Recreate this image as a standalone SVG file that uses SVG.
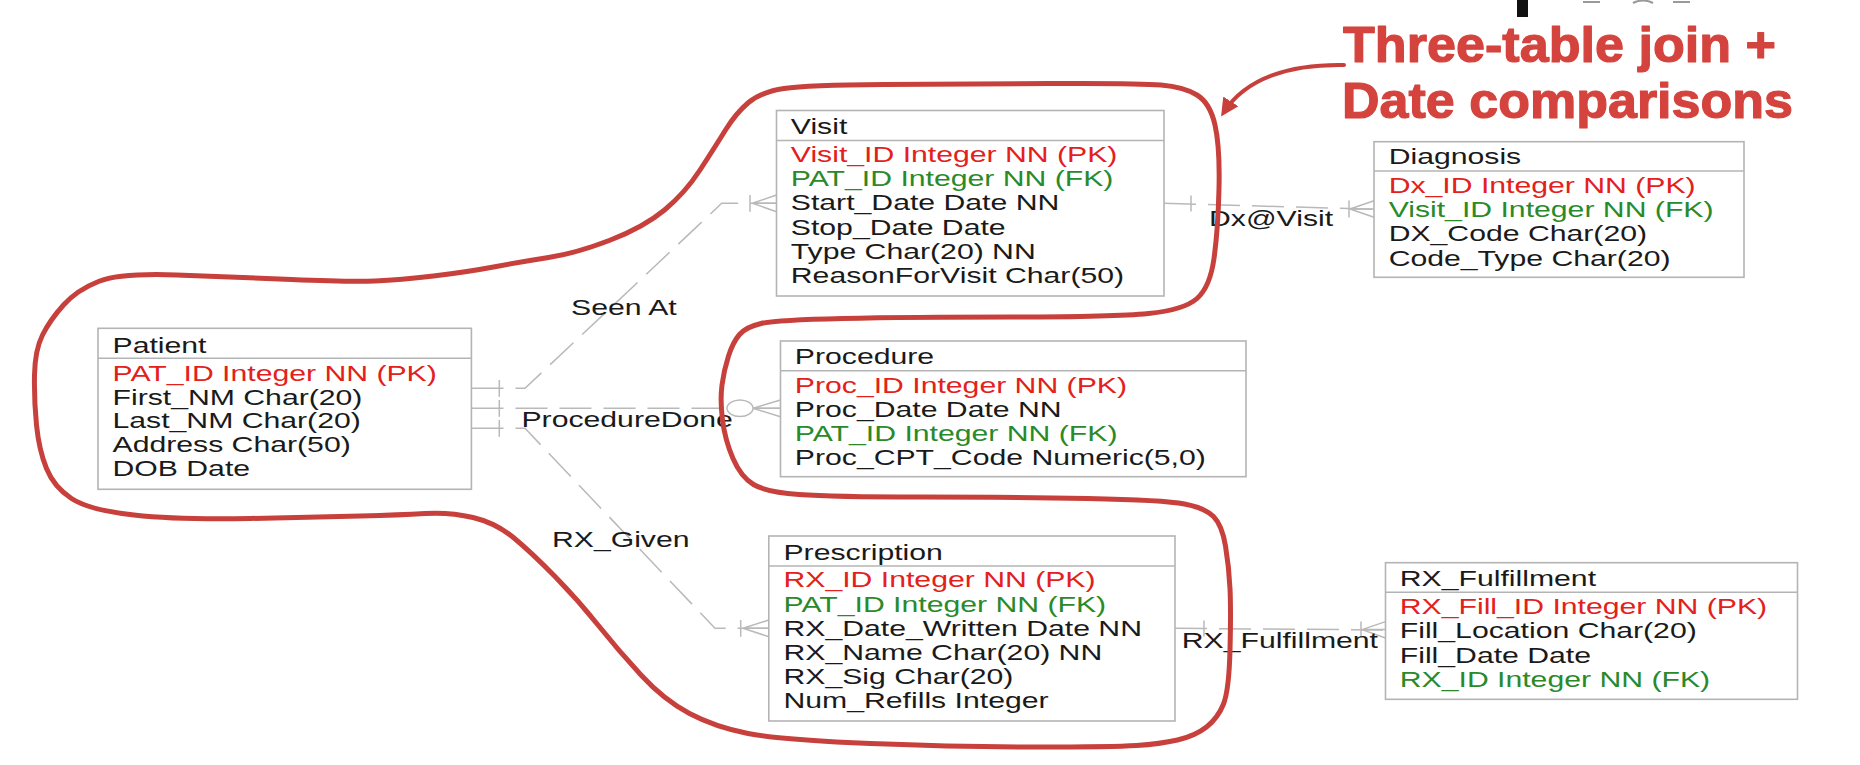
<svg xmlns="http://www.w3.org/2000/svg" width="1860" height="765" viewBox="0 0 1860 765">
<style>
  .box{fill:#ffffff;stroke:#b4b4b4;stroke-width:1.6}
  .div{stroke:#b4b4b4;stroke-width:1.6}
  text{font-family:"Liberation Sans",Arial,sans-serif;font-size:22px;fill:#1a1a1a}
  .pk{fill:#e3211c}
  .fk{fill:#2a8a2a}
  .conn{fill:none;stroke:#b9b9b9;stroke-width:1.5;stroke-dasharray:32 12}
  .sym{fill:none;stroke:#b9b9b9;stroke-width:1.5}
  .loop{fill:none;stroke:#c8403b;stroke-width:5;stroke-linejoin:round;stroke-linecap:round}
  .arrow{fill:none;stroke:#c8403b;stroke-width:4;stroke-linecap:round}
  .title{font-family:"Liberation Sans",Arial,sans-serif;font-weight:700;font-size:50px;fill:#d4433d;stroke:#d4433d;stroke-width:1.2;stroke-linejoin:round}
</style>
<defs>
  <marker id="ah" viewBox="0 0 10 10" refX="7" refY="5" markerUnits="userSpaceOnUse" markerWidth="18" markerHeight="18" orient="auto">
    <path d="M0,0 L10,5 L0,10 z" fill="#c8403b"/>
  </marker>
</defs>
<rect x="0" y="0" width="1860" height="765" fill="#ffffff"/>

<g id="connectors">
  <path class="conn" d="M471.5,388.3 H525 L721.7,203.3 H776.5"/>
  <path class="conn" d="M471.5,408.3 H727"/>
  <path class="conn" d="M753,408.3 H780.5"/>
  <path class="conn" d="M471.5,428.3 H525 L715,628.3 H768.8"/>
  <path class="conn" d="M1164,203.3 L1374,209.3"/>
  <path class="conn" d="M1175,628.3 L1385.5,630"/>
  <path class="sym" d="M499.3,380 V396.7 M499.3,400 V416.7 M499.3,420 V436.7"/>
  <path class="sym" d="M750,195 V211.7 M752.5,203.3 L776.5,195 M752.5,203.3 H776.5 M752.5,203.3 L776.5,211.7"/>
  <ellipse class="sym" cx="740" cy="408.3" rx="13" ry="8.3"/>
  <path class="sym" d="M753,408.3 L780.5,400 M753,408.3 H780.5 M753,408.3 L780.5,416.7"/>
  <path class="sym" d="M740.7,620 V636.7 M743,628.3 L768.8,620 M743,628.3 H768.8 M743,628.3 L768.8,636.7"/>
  <path class="sym" d="M1191,195.5 V211.5 M1349,200.5 V217.5 M1350,209 L1374,200.8 M1350,209 H1374 M1350,209 L1374,217.3"/>
  <path class="sym" d="M1204,620.5 V636.5 M1361,621.5 V638 M1362,629.6 L1385.5,621.6 M1362,629.6 H1385.5 M1362,629.6 L1385.5,638"/>
  <g transform="scale(1.373 1)">
    <text x="415.9" y="315">Seen At</text>
    <text x="379.8" y="426.7">ProcedureDone</text>
    <text x="402" y="546.7">RX_Given</text>
    <text x="880.6" y="226">Dx@Visit</text>
    <text x="860.7" y="648.3">RX_Fulfillment</text>
  </g>
</g>

<g id="patient">
  <rect class="box" x="98" y="328.3" width="373.4" height="161"/>
  <line class="div" x1="98" y1="358.3" x2="471.4" y2="358.3"/>
  <g transform="scale(1.373 1)">
    <text x="81.94" y="352.7">Patient</text>
    <text class="pk" x="81.94" y="381">PAT_ID Integer NN (PK)</text>
    <text x="81.94" y="404.8">First_NM Char(20)</text>
    <text x="81.94" y="428.5">Last_NM Char(20)</text>
    <text x="81.94" y="452.3">Address Char(50)</text>
    <text x="81.94" y="476">DOB Date</text>
  </g>
</g>

<g id="visit">
  <rect class="box" x="776.5" y="110.5" width="387.5" height="185.5"/>
  <line class="div" x1="776.5" y1="140.5" x2="1164" y2="140.5"/>
  <g transform="scale(1.373 1)">
    <text x="575.96" y="134">Visit</text>
    <text class="pk" x="575.96" y="162.5">Visit_ID Integer NN (PK)</text>
    <text class="fk" x="575.96" y="186.5">PAT_ID Integer NN (FK)</text>
    <text x="575.96" y="210.5">Start_Date Date NN</text>
    <text x="575.96" y="234.7">Stop_Date Date</text>
    <text x="575.96" y="258.9">Type Char(20) NN</text>
    <text x="575.96" y="283">ReasonForVisit Char(50)</text>
  </g>
</g>

<g id="diagnosis">
  <rect class="box" x="1374" y="141.7" width="370" height="135.6"/>
  <line class="div" x1="1374" y1="171" x2="1744" y2="171"/>
  <g transform="scale(1.373 1)">
    <text x="1011.4" y="164">Diagnosis</text>
    <text class="pk" x="1011.4" y="193.3">Dx_ID Integer NN (PK)</text>
    <text class="fk" x="1011.4" y="217.3">Visit_ID Integer NN (FK)</text>
    <text x="1011.4" y="241.5">DX_Code Char(20)</text>
    <text x="1011.4" y="265.7">Code_Type Char(20)</text>
  </g>
</g>

<g id="procedure">
  <rect class="box" x="780.5" y="341" width="465.5" height="135.7"/>
  <line class="div" x1="780.5" y1="370.7" x2="1246" y2="370.7"/>
  <g transform="scale(1.373 1)">
    <text x="578.9" y="364">Procedure</text>
    <text class="pk" x="578.9" y="393.3">Proc_ID Integer NN (PK)</text>
    <text x="578.9" y="417.3">Proc_Date Date NN</text>
    <text class="fk" x="578.9" y="441">PAT_ID Integer NN (FK)</text>
    <text x="578.9" y="465">Proc_CPT_Code Numeric(5,0)</text>
  </g>
</g>

<g id="prescription">
  <rect class="box" x="768.8" y="536" width="406.2" height="185"/>
  <line class="div" x1="768.8" y1="566" x2="1175" y2="566"/>
  <g transform="scale(1.373 1)">
    <text x="570.65" y="560">Prescription</text>
    <text class="pk" x="570.65" y="587.3">RX_ID Integer NN (PK)</text>
    <text class="fk" x="570.65" y="611.7">PAT_ID Integer NN (FK)</text>
    <text x="570.65" y="636">RX_Date_Written Date NN</text>
    <text x="570.65" y="660">RX_Name Char(20) NN</text>
    <text x="570.65" y="684.3">RX_Sig Char(20)</text>
    <text x="570.65" y="708.3">Num_Refills Integer</text>
  </g>
</g>

<g id="rx_fulfillment">
  <rect class="box" x="1385.5" y="562.7" width="412" height="136.6"/>
  <line class="div" x1="1385.5" y1="592.3" x2="1797.5" y2="592.3"/>
  <g transform="scale(1.373 1)">
    <text x="1019.5" y="586">RX_Fulfillment</text>
    <text class="pk" x="1019.5" y="614">RX_Fill_ID Integer NN (PK)</text>
    <text x="1019.5" y="638.3">Fill_Location Char(20)</text>
    <text x="1019.5" y="662.6">Fill_Date Date</text>
    <text class="fk" x="1019.5" y="686.7">RX_ID Integer NN (FK)</text>
  </g>
</g>

<g id="annotation">
  <path class="loop" d="M784,88.5 Q807,85 883.5,84.5 Q960,84 1049,83.5 Q1138,83 1161,85 Q1184,87 1197,95 Q1210,103 1215,125 Q1220,147 1219,188.5 Q1218,230 1214,258.5 Q1210,287 1197,298.5 Q1184,310 1148.5,313.5 Q1113,317 1011,317 Q909,317 842.5,318.5 Q776,320 761,323.5 Q746,327 739.5,334.5 Q733,342 728.5,356 Q724,370 722,385 Q720,400 722.5,420 Q725,440 733,458.5 Q741,477 753.5,484.5 Q766,492 799,494.5 Q832,497 921.5,497 Q1011,497 1087.5,498.5 Q1164,500 1184.5,504 Q1205,508 1213.5,516.5 Q1222,525 1225.5,546 Q1229,567 1230,588.5 Q1231,610 1230,650 Q1229,690 1223.5,704 Q1218,718 1206.5,727 Q1195,736 1177.5,740 Q1160,744 1136.5,745.5 Q1113,747 1036.5,747 Q960,747 870.5,743.5 Q781,740 748,733.5 Q715,727 689.5,713.5 Q664,700 641,675 Q618,650 598,625 Q578,600 555,576.5 Q532,553 514,538 Q496,523 473,517.5 Q450,512 425,513.5 Q400,515 360.5,516 Q321,517 250,518.5 Q179,520 134,515 Q89,510 71.5,498.5 Q54,487 46.5,468.5 Q39,450 36.5,425 Q34,400 34.5,375 Q35,350 42.5,335 Q50,320 63.5,305 Q77,290 98.5,281.5 Q120,273 176.5,275 Q233,277 291.5,279.5 Q350,282 375,281 Q400,280 433.5,276 Q467,272 493.5,267 Q520,262 548.5,257.5 Q577,253 610.5,240 Q644,227 664.5,210 Q685,193 700,170 Q715,147 725.5,130 Q736,113 748.5,102.5 Q761,92 784,88.5 Z"/>
  <path class="arrow" d="M1344,65 C1290,64 1246,78 1224,112" marker-end="url(#ah)"/>
  <text class="title"><tspan x="1343" y="61.7" textLength="433" lengthAdjust="spacingAndGlyphs">Three-table join +</tspan><tspan x="1342" y="118.3" textLength="451" lengthAdjust="spacingAndGlyphs">Date comparisons</tspan></text>
  <rect x="1517" y="0" width="11" height="17" fill="#111111"/>
  <path d="M1583,2 H1600 M1633,3 Q1643,-2 1653,3 M1673,2 H1690" fill="none" stroke="#9a9a9a" stroke-width="2"/>
</g>
</svg>
